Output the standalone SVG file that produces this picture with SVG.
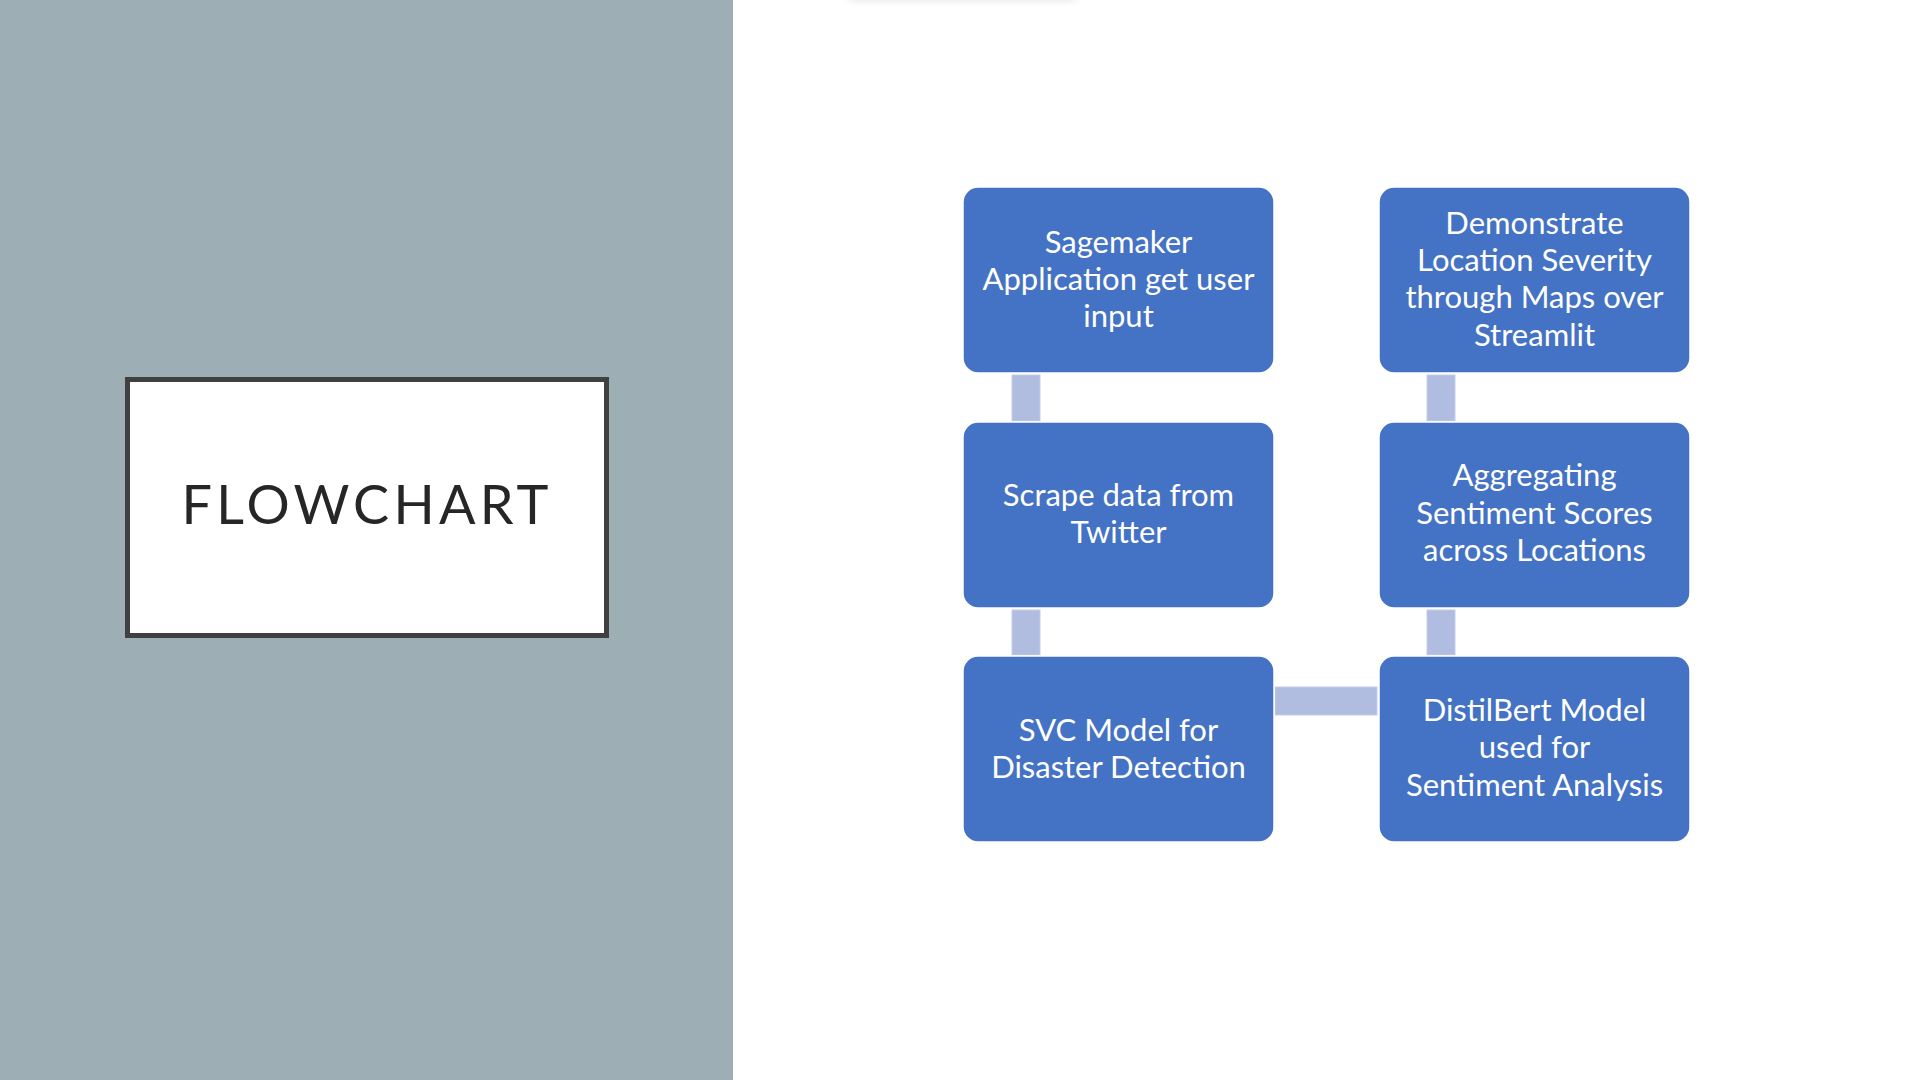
<svg xmlns="http://www.w3.org/2000/svg" width="1920" height="1080" viewBox="0 0 1920 1080">
<defs>
<style>
.node rect{fill:#4472C4;stroke:#ffffff;stroke-width:1.5}
.node text{fill:#ffffff;font-family:Lato,"Liberation Sans",sans-serif;font-size:31px;text-anchor:middle}
.conn rect{fill:#B0BDE0;stroke:#C3CDE8;stroke-width:1}
</style>
<filter id="blur" x="-20%" y="-200%" width="140%" height="500%"><feGaussianBlur stdDeviation="4"/></filter>
</defs>
<rect x="0" y="0" width="1920" height="1080" fill="#ffffff"/>
<rect x="0" y="0" width="733" height="1080" fill="#9DAFB4"/>
<rect x="850" y="-14" width="225" height="14" fill="#000000" opacity="0.12" filter="url(#blur)"/>
<g id="title">
<rect x="127.5" y="379.5" width="479" height="256" fill="#ffffff" stroke="#404040" stroke-width="5"/>
<text x="365" y="524" font-family="Lato,'Liberation Sans',sans-serif" font-size="54" fill="#262626" text-anchor="middle" textLength="367" lengthAdjust="spacing">FLOWCHART</text>
</g>
<g id="connectors" class="conn">
<rect x="1012" y="375" width="28" height="46"/>
<rect x="1012" y="610" width="28" height="45"/>
<rect x="1275" y="687" width="102" height="28"/>
<rect x="1427" y="610" width="28" height="45"/>
<rect x="1427" y="375" width="28" height="46"/>
</g>
<g id="n1" class="node">
<rect x="963" y="187" width="311" height="186" rx="15"/>
<text x="1118.5" y="253">Sagemaker</text>
<text x="1118.5" y="290">Application get user</text>
<text x="1118.5" y="327">input</text>
</g>
<g id="n2" class="node">
<rect x="963" y="422" width="311" height="186" rx="15"/>
<text x="1118.5" y="506">Scrape data from</text>
<text x="1118.5" y="543">Twitter</text>
</g>
<g id="n3" class="node">
<rect x="963" y="656" width="311" height="186" rx="15"/>
<text x="1118.5" y="741">SVC Model for</text>
<text x="1118.5" y="778">Disaster Detection</text>
</g>
<g id="n4" class="node">
<rect x="1379" y="656" width="311" height="186" rx="15"/>
<text x="1534.5" y="721">DistilBert Model</text>
<text x="1534.5" y="758">used for</text>
<text x="1534.5" y="796">Sentiment Analysis</text>
</g>
<g id="n5" class="node">
<rect x="1379" y="422" width="311" height="186" rx="15"/>
<text x="1534.5" y="486">Aggregating</text>
<text x="1534.5" y="524">Sentiment Scores</text>
<text x="1534.5" y="561">across Locations</text>
</g>
<g id="n6" class="node">
<rect x="1379" y="187" width="311" height="186" rx="15"/>
<text x="1534.5" y="234">Demonstrate</text>
<text x="1534.5" y="271">Location Severity</text>
<text x="1534.5" y="308">through Maps over</text>
<text x="1534.5" y="346">Streamlit</text>
</g>
</svg>
